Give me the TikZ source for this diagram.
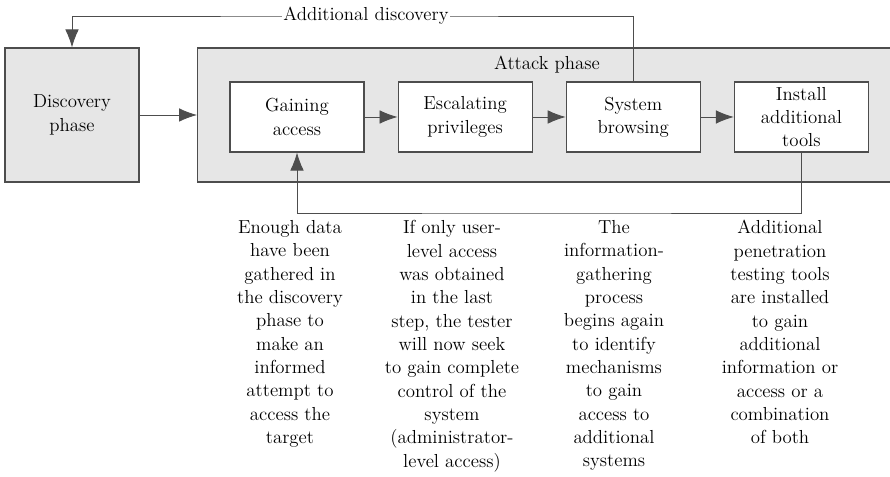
\documentclass[tikz,border=0pt]{standalone}
\usepackage{tikz}
\usetikzlibrary{arrows.meta,positioning}
\definecolor{phasegray}{HTML}{E6E6E6}
\definecolor{linegray}{HTML}{4D4D4D}
\tikzset{
  phase/.style={draw=linegray, fill=phasegray, line width=0.8pt,
    minimum width=3.35cm, minimum height=3.35cm, align=center},
  stepbox/.style={draw=linegray, fill=white, line width=0.8pt,
    minimum width=3.35cm, minimum height=1.75cm, align=center},
  note/.style={align=center, anchor=north, inner sep=0pt},
  flow/.style={draw=linegray, line width=0.6pt,
    -{Latex[length=0.45cm,width=0.34cm]}},
}

\begin{document}
\begin{tikzpicture}[font=\fontsize{13.4}{16.6}\selectfont]
\clip (0,0) rectangle (22.25,11.925);

% phases
\draw(1.8,9.05) node[phase] (disc) {Discovery\\phase};
\draw(4.925,9.05) node[phase, anchor=west, minimum width=17.8cm] (attack) {};
\draw(13.675,10.3) node (attlabel) {Attack phase};

% steps of the attack phase
\draw(7.425,9.0) node[stepbox] (gain) {Gaining\\access};
\node[stepbox, right=0.825cm of gain] (esc) {Escalating\\privileges};
\node[stepbox, right=0.825cm of esc] (sys) {System\\browsing};
\node[stepbox, right=0.825cm of sys] (tools) {Install\\additional\\tools};

\draw[flow] (disc) -- (attack.west|-disc);
\draw[flow] (gain) -- (esc);
\draw[flow] (esc) -- (sys);
\draw[flow] (sys) -- (tools);

% loops
\coordinate (back) at (9.15,11.525);
\draw[flow] (sys.north) |- (back) -| (disc.north);
\draw(back) node[fill=white, inner sep=1pt] (addlabel) {Additional discovery};
\coordinate (fb) at (13.6,6.6);
\draw[flow] (tools.south) |- (fb) -| (gain.south);

% notes
\draw(7.25,6.42) node[note] (gainnote) {Enough data\\have been\\gathered in\\the discovery\\phase to\\make an\\informed\\attempt to\\access the\\target};
\draw(11.3,6.42) node[note] (escnote) {If only user-\\level access\\was obtained\\in the last\\step, the tester\\will now seek\\to gain complete\\control of the\\system\\(administrator-\\level access)};
\draw(15.35,6.42) node[note] (sysnote) {The\\information-\\gathering\\process\\begins again\\to identify\\mechanisms\\to gain\\access to\\additional\\systems};
\draw(19.5,6.42) node[note] (toolsnote) {Additional\\penetration\\testing tools\\are installed\\to gain\\additional\\information or\\access or a\\combination\\of both};
\end{tikzpicture}
\end{document}
